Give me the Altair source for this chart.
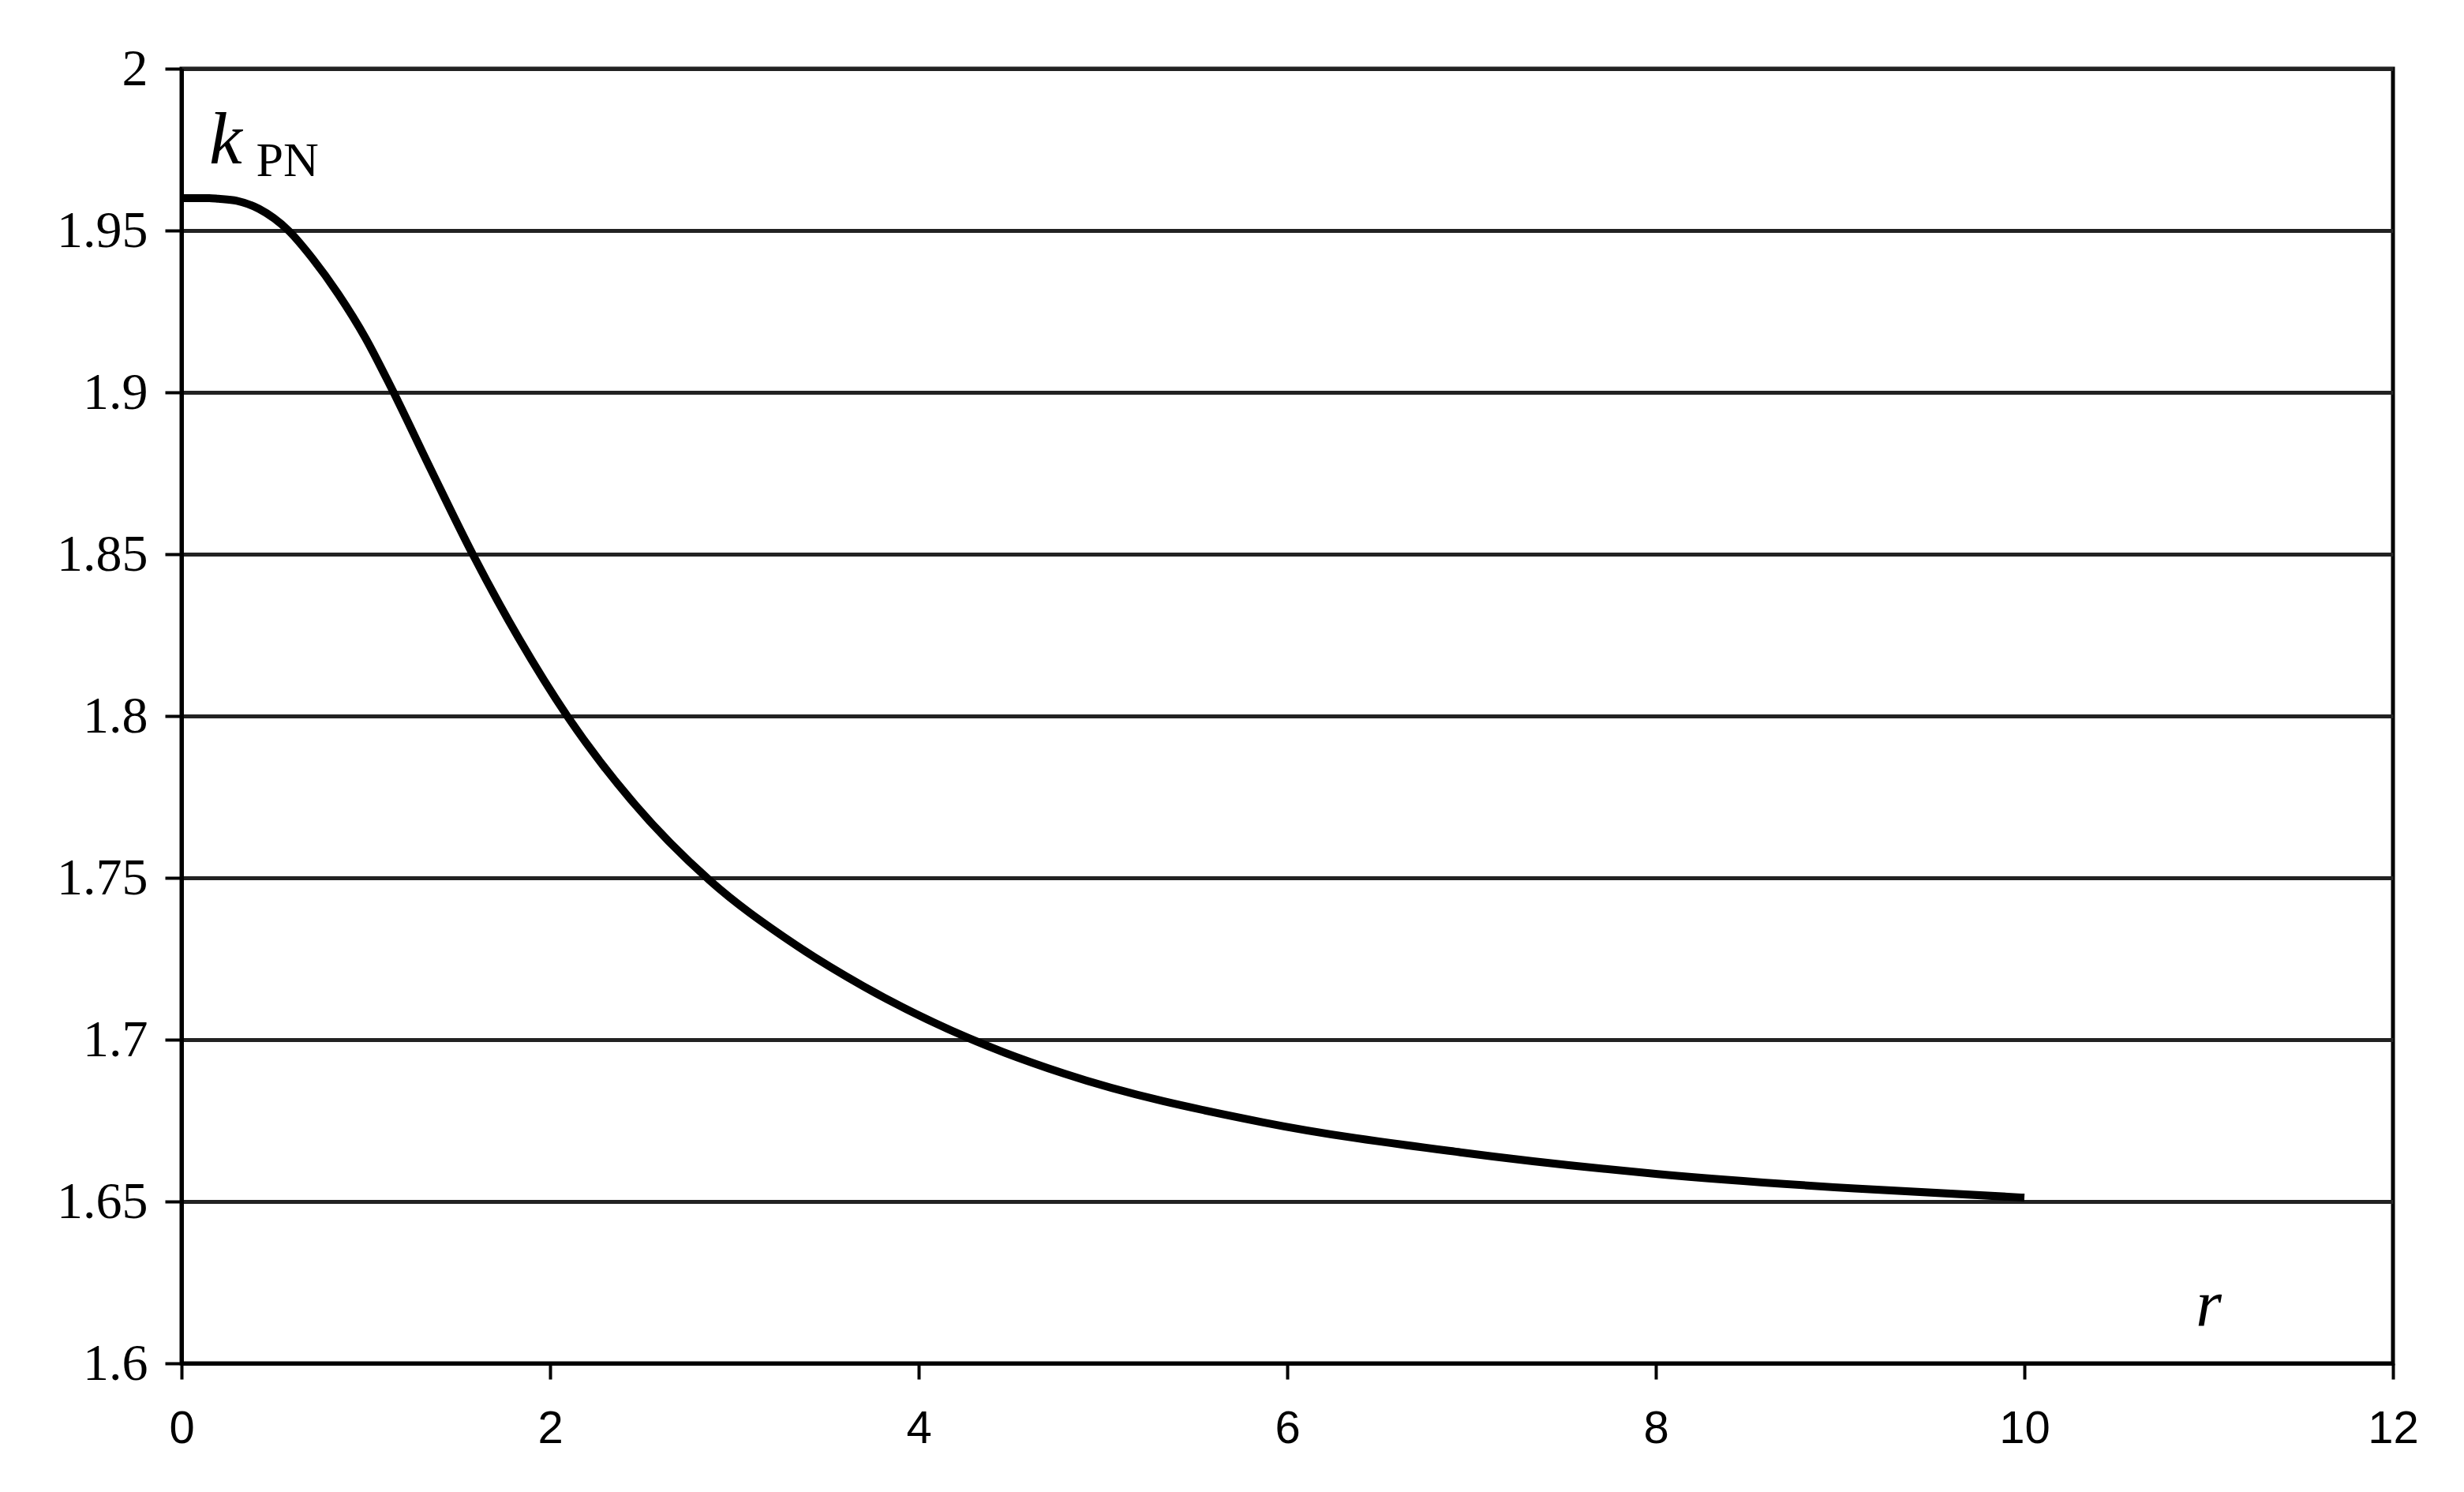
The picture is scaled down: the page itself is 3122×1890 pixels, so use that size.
import altair as alt
import pandas as pd

# Curve
r_values = [0.0, 0.15, 0.2, 0.3, 0.42, 0.58, 0.71, 0.85, 1.0, 1.14, 1.35, 1.58,
            1.83, 2.095, 2.44, 2.866, 3.3, 3.7, 4.27, 4.79, 5.865, 6.94,
            8.01, 9.08, 10.0]
k_values = [1.9600, 1.9600, 1.9598, 1.9592, 1.9567, 1.9500, 1.9414, 1.9304, 1.9166,
            1.9012, 1.8765, 1.8500, 1.8240, 1.7998, 1.7740, 1.7492, 1.7305, 1.7165,
            1.7005, 1.6895, 1.6745, 1.6652, 1.6585, 1.6540, 1.6512]

x_ticks = [0, 2, 4, 6, 8, 10, 12]
y_ticks = [1.6, 1.65, 1.7, 1.75, 1.8, 1.85, 1.9, 1.95, 2.0]

k_label = ["k"]
pn_label = ["PN"]
r_label = ["r"]

df = pd.DataFrame({"r": r_values, "k": k_values})

x_scale = alt.Scale(domain=[0, 12], nice=False, zero=False)
y_scale = alt.Scale(domain=[1.6, 2.0], nice=False, zero=False)

x_axis = alt.Axis(values=x_ticks, format="d", title=None, grid=False,
                  labelFont="Liberation Sans", labelFontSize=58, labelColor="black",
                  tickColor="black", tickSize=20, tickWidth=4, domainColor="black",
                  domainWidth=5, labelPadding=34, labelFlush=False, labelOverlap=False)
y_axis = alt.Axis(values=y_ticks, format=".2~f", title=None, grid=True, gridColor="#222222",
                  gridWidth=5, labelFont="Liberation Serif", labelFontSize=66,
                  labelColor="black", tickColor="black", tickSize=21, tickWidth=4,
                  domainColor="black", domainWidth=5, labelPadding=22,
                  labelFlush=False, labelOverlap=False)

line = alt.Chart(df).mark_line(color="black", strokeWidth=10, interpolate="monotone").encode(
    x=alt.X("r:Q", scale=x_scale, axis=x_axis),
    y=alt.Y("k:Q", scale=y_scale, axis=y_axis),
)

k_text = alt.Chart(pd.DataFrame({"t": k_label})).mark_text(
    font="Liberation Serif", fontStyle="italic", fontSize=94, align="left",
    baseline="alphabetic", color="black").encode(
    x=alt.datum(0.15), y=alt.datum(1.9707), text="t:N")

pn_text = alt.Chart(pd.DataFrame({"t": pn_label})).mark_text(
    font="Liberation Serif", fontSize=62, align="left",
    baseline="alphabetic", color="black").encode(
    x=alt.datum(0.405), y=alt.datum(1.9668), text="t:N")

r_text = alt.Chart(pd.DataFrame({"t": r_label})).mark_text(
    font="Liberation Serif", fontStyle="italic", fontSize=84, align="left",
    baseline="alphabetic", color="black").encode(
    x=alt.datum(10.93), y=alt.datum(1.6115), text="t:N")

chart = alt.layer(line, k_text, pn_text, r_text).properties(
    width=2802, height=1640,
    autosize=alt.AutoSizeParams(type="none"),
    padding={"left": 222, "top": 79, "right": 80, "bottom": 150},
    background="white",
).configure_view(stroke="black", strokeWidth=5)

chart.save("out.html", embed_options={"renderer": "svg", "actions": False})
